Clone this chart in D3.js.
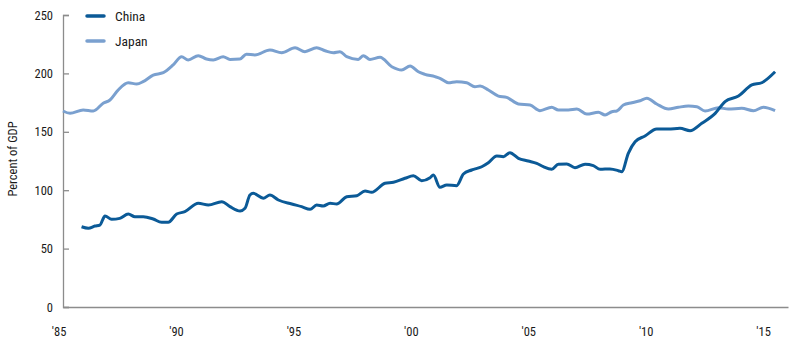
<!DOCTYPE html>
<html>
<head>
<meta charset="utf-8">
<script src="https://cdnjs.cloudflare.com/ajax/libs/d3/7.8.5/d3.min.js"></script>
<style>
  body { margin: 0; background: #fff; }
  svg text { font-family: "Liberation Sans Narrow", "Roboto Condensed", "Arial Narrow", "Liberation Sans", sans-serif; fill: #1a1a1a; }
</style>
</head>
<body>
<svg id="debtChart" width="790" height="345"></svg>
<script>
// quarterly-ish readings, percent of GDP
const japanYears = [1985.19, 1985.49, 1986.05, 1986.48, 1986.9, 1987.19, 1987.54, 1987.97, 1988.33, 1988.6,
  1989.03, 1989.46, 1989.88, 1990.24, 1990.52, 1990.95, 1991.3, 1991.59, 1992.01, 1992.3, 1992.72, 1993.0,
  1993.36, 1994.0, 1994.5, 1995.07, 1995.49, 1995.99, 1996.35, 1996.7, 1996.98, 1997.27, 1997.76, 1997.98,
  1998.26, 1998.69, 1999.19, 1999.61, 1999.97, 2000.32, 2000.6, 2001.03, 2001.24, 2001.6, 2001.95, 2002.38,
  2002.73, 2002.95, 2003.3, 2003.73, 2004.08, 2004.58, 2005.08, 2005.5, 2006.0, 2006.28, 2006.71, 2007.07,
  2007.49, 2007.99, 2008.27, 2008.56, 2008.77, 2009.05, 2009.41, 2009.76, 2010.05, 2010.47, 2010.97,
  2011.39, 2011.82, 2012.18, 2012.53, 2013.1, 2013.52, 2014.09, 2014.59, 2015.01, 2015.51];
const japanValues = [167.8, 165.8, 168.7, 167.8, 174.4, 177.2, 185.8, 192, 190.9, 192.9,
  198.6, 200.6, 207.2, 214.3, 211.5, 215.2, 212.3, 211.5, 214.3, 212, 212.3, 216.4,
  215.8, 220, 217.7, 222, 218.6, 222, 219.4, 217.7, 218.6, 214.3, 212, 215.2,
  212, 213.8, 205.7, 202.9, 206.3, 201.4, 199.2, 197.2, 195.8, 192, 192.9, 192,
  188.6, 189.2, 185.8, 180.6, 179.5, 173.8, 172.9, 168.1, 171, 168.7, 168.7, 169.5,
  165.2, 166.7, 164.4, 167.2, 167.8, 172.9, 174.9, 176.6, 178.7, 173.8, 169.5,
  171, 172.1, 171.5, 167.8, 170.6, 169.5, 170.1, 168.1, 171, 168.1];

const chinaYears = [1985.98, 1986.27, 1986.55, 1986.76, 1986.98, 1987.26, 1987.61, 1987.97, 1988.25, 1988.61,
  1989.03, 1989.39, 1989.67, 1990.03, 1990.38, 1990.95, 1991.38, 1991.95, 1992.3, 1992.73, 1992.94, 1993.15,
  1993.29, 1993.72, 1994.0, 1994.36, 1994.93, 1995.35, 1995.71, 1995.99, 1996.27, 1996.56, 1996.84, 1997.27,
  1997.7, 1998.05, 1998.33, 1998.9, 1999.26, 1999.75, 2000.11, 2000.46, 2000.82, 2000.96, 2001.24, 2001.53,
  2001.95, 2002.24, 2002.59, 2003.02, 2003.3, 2003.66, 2003.94, 2004.22, 2004.58, 2005.0, 2005.36, 2005.64,
  2006.0, 2006.28, 2006.64, 2006.99, 2007.42, 2007.77, 2008.06, 2008.48, 2008.84, 2008.98, 2009.26, 2009.55,
  2009.97, 2010.47, 2010.97, 2011.46, 2011.89, 2012.39, 2012.96, 2013.38, 2013.95, 2014.52, 2014.94, 2015.51];
const chinaValues = [68.7, 67.4, 69.3, 70.2, 77.9, 75.1, 75.9, 79.6, 77.3, 77.3,
  75.3, 72.5, 72.5, 79.6, 81.6, 88.8, 87.3, 90.2, 85.9, 82.2, 84.5, 95.9,
  97.3, 93.1, 95.9, 91.6, 88.2, 85.9, 83.6, 87.3, 86.5, 88.8, 88.2, 94.4,
  95.3, 99.3, 98.2, 105.9, 106.8, 110.2, 112.4, 108.1, 110.7, 113, 102.5, 104.5,
  103.9, 113.9, 117.3, 120.1, 123.5, 129.3, 128.7, 132.1, 127.3, 125, 123, 120.1,
  117.9, 122.2, 122.4, 119.3, 122.2, 121, 117.9, 118.2, 116.7, 115.8, 131.6, 141.5,
  146.4, 152.4, 152.4, 153, 150.9, 157.3, 165.8, 175.8, 180.6, 190.1, 192, 201.4];

const yTicks = [0, 50, 100, 150, 200, 250];
const xTicks = [1985, 1990, 1995, 2000, 2005, 2010, 2015];
const xTickLabels = ["'85", "'90", "'95", "'00", "'05", "'10", "'15"];
const seriesNames = ["China", "Japan"];
const seriesColors = ["#0b5a97", "#7aa0cf"];

const svg = d3.select('svg#debtChart');

const xScale = d3.scaleLinear()
    .domain([1985.19, 2016.06])
    .range([63, 788]);

const yScale = d3.scaleLinear()
    .domain([0, 250])
    .range([307, 15]);

// y axis: ticks point inward
const yAxisG = svg.append('g')
    .attr('class', 'y-axis')
    .attr('transform', 'translate(63,0)')
    .call(d3.axisRight(yScale).tickValues(yTicks).tickSize(6).tickFormat(d3.format('d')));
yAxisG.select('.domain').attr('stroke', '#8c8c8c').attr('stroke-width', 1.3);
yAxisG.selectAll('.tick line').attr('stroke', '#8c8c8c').attr('stroke-width', 1.3);
yAxisG.selectAll('.tick text')
    .attr('x', -10)
    .attr('text-anchor', 'end')
    .style('font-size', '12.5px');

// x axis: no tick marks
const xAxisG = svg.append('g')
    .attr('class', 'x-axis')
    .attr('transform', 'translate(0,307)')
    .call(d3.axisBottom(xScale).tickValues(xTicks).tickSize(0)
        .tickFormat((d, i) => xTickLabels[i]));
xAxisG.select('.domain').attr('stroke', '#8c8c8c').attr('stroke-width', 1.3);
xAxisG.selectAll('.tick text')
    .attr('y', 20)
    .style('font-size', '12.5px');

svg.append('text')
    .attr('transform', 'translate(17,159) rotate(-90)')
    .attr('text-anchor', 'middle')
    .style('font-size', '12.5px')
    .text('Percent of GDP');

const line = d3.line()
    .x(d => xScale(d[0]))
    .y(d => yScale(d[1]))
    .curve(d3.curveMonotoneX);

const japanData = d3.zip(japanYears, japanValues);
const chinaData = d3.zip(chinaYears, chinaValues);

svg.append('path')
    .datum(japanData)
    .attr('fill', 'none')
    .attr('stroke', seriesColors[1])
    .attr('stroke-width', 3)
    .attr('stroke-linejoin', 'round')
    .attr('d', line);

svg.append('path')
    .datum(chinaData)
    .attr('fill', 'none')
    .attr('stroke', seriesColors[0])
    .attr('stroke-width', 3)
    .attr('stroke-linejoin', 'round')
    .attr('d', line);

// legend
const legend = svg.append('g').attr('class', 'legend');
seriesNames.forEach((name, i) => {
    const ly = 16 + i * 25;
    legend.append('line')
        .attr('x1', 87).attr('x2', 104)
        .attr('y1', ly).attr('y2', ly)
        .attr('stroke', seriesColors[i])
        .attr('stroke-width', 3.5)
        .attr('stroke-linecap', 'round');
    legend.append('text')
        .attr('x', 115)
        .attr('y', ly)
        .attr('dy', '0.36em')
        .style('font-size', '13.5px')
        .text(name);
});
</script>
</body>
</html>
